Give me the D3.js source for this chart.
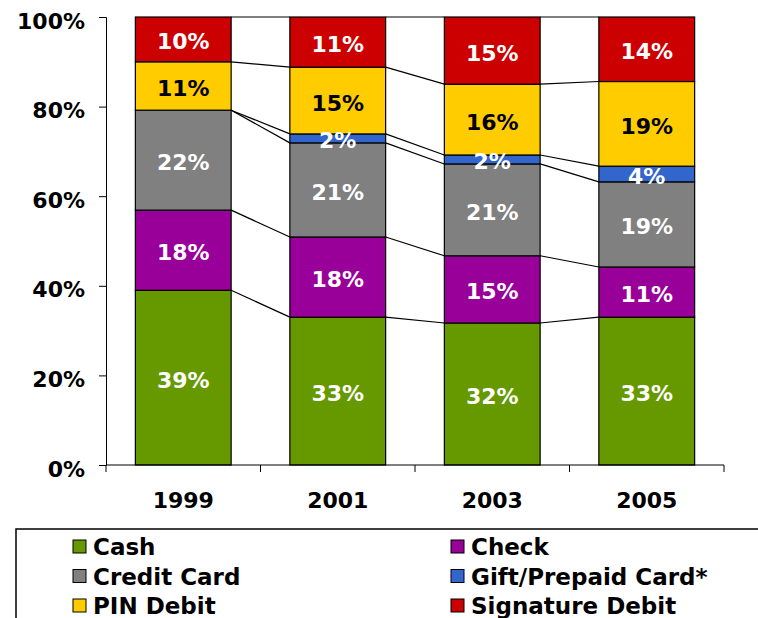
<!DOCTYPE html>
<html lang="en">
<head>
<meta charset="UTF-8">
<title>Payment mix 1999-2005</title>
<script src="https://d3js.org/d3.v7.min.js"></script>
<style>
  body { margin: 0; background: #fff; }
  text { font-family: "DejaVu Sans", Verdana, sans-serif; font-weight: bold; }
</style>
</head>
<body>
<svg id="chart" width="758" height="618"></svg>
<script>
  // data (percent of transactions)
  const years = ["1999", "2001", "2003", "2005"];
  const series = ["Cash", "Check", "Credit Card", "Gift/Prepaid Card*", "PIN Debit", "Signature Debit"];
  const cash      = [39, 33, 31.7, 33];
  const check     = [17.9, 17.9, 15, 11.2];
  const credit    = [22.3, 21, 20.5, 19];
  const gift      = [0, 2, 2, 3.5];
  const pinDebit  = [10.8, 14.9, 15.8, 18.9];
  const sigDebit  = [10, 11.2, 15, 14.4];
  const yTicks = [0, 20, 40, 60, 80, 100];

  const colors = ["#669900", "#990099", "#808080", "#3366cc", "#ffcc00", "#cc0000"];
  const labelColors = ["#fff", "#fff", "#fff", "#fff", "#000", "#fff"];

  const values = [cash, check, credit, gift, pinDebit, sigDebit];
  const rows = years.map((yr, i) => {
    const r = { year: yr };
    series.forEach((s, j) => r[s] = values[j][i]);
    return r;
  });
  const stacked = d3.stack().keys(series)(rows);

  const svg = d3.select("#chart");
  const margin = { top: 17, left: 106 };
  const width = 618, height = 448;
  const g = svg.append("g").attr("transform", `translate(${margin.left},${margin.top})`);

  const x = d3.scaleBand().domain(years).range([0, width]).paddingInner(0.38).paddingOuter(0.19);
  const y = d3.scaleLinear().domain([0, 100]).range([height, 0]);

  // series lines between bars
  stacked.forEach(layer => {
    for (let i = 0; i < years.length - 1; i++) {
      g.append("line")
        .attr("x1", x(years[i]) + x.bandwidth())
        .attr("x2", x(years[i + 1]))
        .attr("y1", y(layer[i][1]))
        .attr("y2", y(layer[i + 1][1]))
        .attr("stroke", "#000")
        .attr("stroke-width", 1.2);
    }
  });

  // bars
  const layers = g.selectAll(".layer")
    .data(stacked)
    .enter().append("g")
    .attr("fill", (d, i) => colors[i]);

  layers.selectAll("rect")
    .data(d => d)
    .enter().append("rect")
    .attr("x", d => x(d.data.year))
    .attr("y", d => y(d[1]))
    .attr("width", x.bandwidth())
    .attr("height", d => y(d[0]) - y(d[1]))
    .attr("stroke", "#000")
    .attr("stroke-width", 1.2);

  // value labels
  stacked.forEach((layer, j) => {
    layer.forEach(d => {
      const v = d[1] - d[0];
      if (v <= 0) return;
      g.append("text")
        .attr("x", x(d.data.year) + x.bandwidth() / 2)
        .attr("y", (y(d[0]) + y(d[1])) / 2 + 10)
        .attr("text-anchor", "middle")
        .attr("fill", labelColors[j])
        .style("font-size", "22px")
        .text(Math.round(v) + "%");
    });
  });

  // y axis
  const yAxis = g.append("g")
    .call(d3.axisLeft(y).tickValues(yTicks).tickFormat(d => d + "%").tickSize(7).tickPadding(14));
  yAxis.select(".domain").attr("stroke", "#000");
  yAxis.selectAll("text").style("font-size", "22px").attr("fill", "#000").attr("dy", "0.5em");

  // x axis with ticks at category boundaries
  const xAxis = g.append("g").attr("transform", `translate(0,${height})`);
  xAxis.append("line").attr("x1", 0).attr("x2", width).attr("stroke", "#000");
  const bounds = [0].concat(years.map(yr => x(yr) + x.bandwidth() + x.step() * x.paddingInner() / 2));
  bounds[bounds.length - 1] = width;
  xAxis.selectAll(".bt")
    .data(bounds)
    .enter().append("line")
    .attr("x1", d => d).attr("x2", d => d)
    .attr("y1", 0).attr("y2", 7)
    .attr("stroke", "#000");
  xAxis.selectAll(".xl")
    .data(years)
    .enter().append("text")
    .attr("x", d => x(d) + x.bandwidth() / 2)
    .attr("y", 43)
    .attr("text-anchor", "middle")
    .style("font-size", "22px")
    .text(d => d);

  // legend
  const legend = svg.append("g").attr("transform", "translate(16,529)");
  legend.append("rect")
    .attr("width", 760).attr("height", 100)
    .attr("fill", "none").attr("stroke", "#000").attr("stroke-width", 1.5);
  series.forEach((s, i) => {
    const col = i % 2, row = Math.floor(i / 2);
    const item = legend.append("g")
      .attr("transform", `translate(${col === 0 ? 57 : 435},${11 + row * 29.5})`);
    item.append("rect")
      .attr("width", 13).attr("height", 13)
      .attr("fill", colors[i]).attr("stroke", "#000");
    item.append("text")
      .attr("x", 20).attr("y", 15)
      .style("font-size", "23px")
      .text(s);
  });
</script>
</body>
</html>
